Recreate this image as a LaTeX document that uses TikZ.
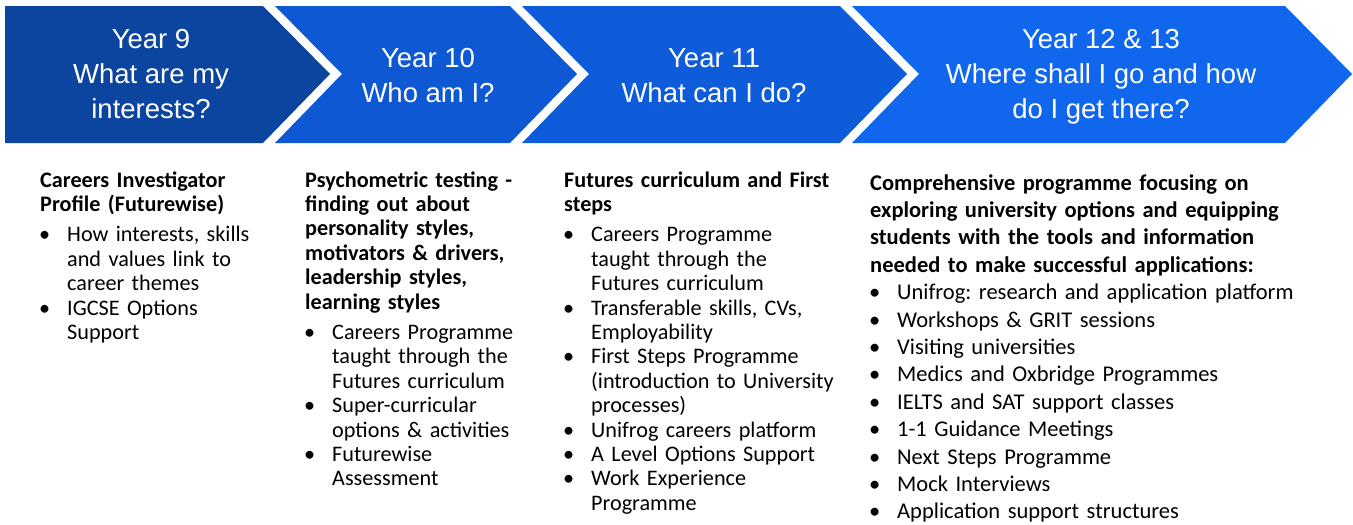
\documentclass[tikz,border=0pt]{standalone}
\usepackage{fontspec}
\setmainfont{Carlito}
\newfontfamily\headfont{Liberation Sans}

\definecolor{yrnine}{RGB}{12,69,160}
\definecolor{yrten}{RGB}{14,88,212}
\definecolor{yreleven}{RGB}{14,92,218}
\definecolor{yrtwelve}{RGB}{16,103,238}

\newcommand\blt[1]{\par\noindent\hangindent=27pt\hangafter=1%
  \makebox[27pt][l]{\hspace{-1pt}\textbullet}#1\par}

\tikzset{
  yrtext/.style={font=\headfont\fontsize{27.5}{35}\selectfont, text=white, align=center},
  coltext/.style={anchor=base west, inner sep=0pt, text width=300pt,
    font=\frenchspacing\fontsize{22.2}{24.4}\selectfont},
  bigcoltext/.style={coltext, text width=460pt, font=\frenchspacing\fontsize{22.5}{27.4}\selectfont}
}

\begin{document}
\begin{tikzpicture}[x=1pt,y=-1pt]
\useasboundingbox (0,0) rectangle (1353,525);

\fill[yrnine] (5,6) -- (263,6) -- (330,74) -- (263,143) -- (5,143) -- cycle;
\fill[yrten] (275,6) -- (510,6) -- (577,74) -- (510,143) -- (275,143) -- (342,74) -- cycle;
\fill[yreleven] (522,6) -- (840,6) -- (907,74) -- (840,143) -- (522,143) -- (589,74) -- cycle;
\fill[yrtwelve] (852,6) -- (1285,6) -- (1352,74) -- (1285,143) -- (852,143) -- (919,74) -- cycle;

\node[yrtext] (y9) at (151,74) {Year 9\\What are my\\interests?};
\node[yrtext] (y10) at (428,76) {Year 10\\Who am I?};
\node[yrtext] (y11) at (714,76) {Year 11\\What can I do?};
\node[yrtext] (y12) at (1101,77) {Year 12 \& 13\\Where shall I go and how\\do I get there?};

\node[coltext] (c9) at (40,187) {\textbf{Careers Investigator\newline
  Profile (Futurewise)}\par\vspace{6pt}
  \blt{How interests, skills\newline and values link to\newline career themes}
  \blt{IGCSE Options\newline Support}};

\node[coltext] (c10) at (305,187) {\textbf{Psychometric testing -\newline
  finding out about\newline personality styles,\newline motivators \& drivers,\newline
  leadership styles,\newline learning styles}\par\vspace{6pt}
  \blt{Careers Programme\newline taught through the\newline Futures curriculum}
  \blt{Super-curricular\newline options \& activities}
  \blt{Futurewise\newline Assessment}};

\node[coltext] (c11) at (564,187) {\textbf{Futures curriculum and First\newline
  steps}\par\vspace{6pt}
  \blt{Careers Programme\newline taught through the\newline Futures curriculum}
  \blt{Transferable skills, CVs,\newline Employability}
  \blt{First Steps Programme\newline (introduction to University\newline processes)}
  \blt{Unifrog careers platform}
  \blt{A Level Options Support}
  \blt{Work Experience\newline Programme}};

\node[bigcoltext] (c12) at (870,190) {\textbf{Comprehensive programme focusing on\newline
  exploring university options and equipping\newline students with the tools and information\newline
  needed to make successful applications:}
  \blt{Unifrog: research and application platform}
  \blt{Workshops \& GRIT sessions}
  \blt{Visiting universities}
  \blt{Medics and Oxbridge Programmes}
  \blt{IELTS and SAT support classes}
  \blt{1-1 Guidance Meetings}
  \blt{Next Steps Programme}
  \blt{Mock Interviews}
  \blt{Application support structures}};

\end{tikzpicture}
\end{document}
